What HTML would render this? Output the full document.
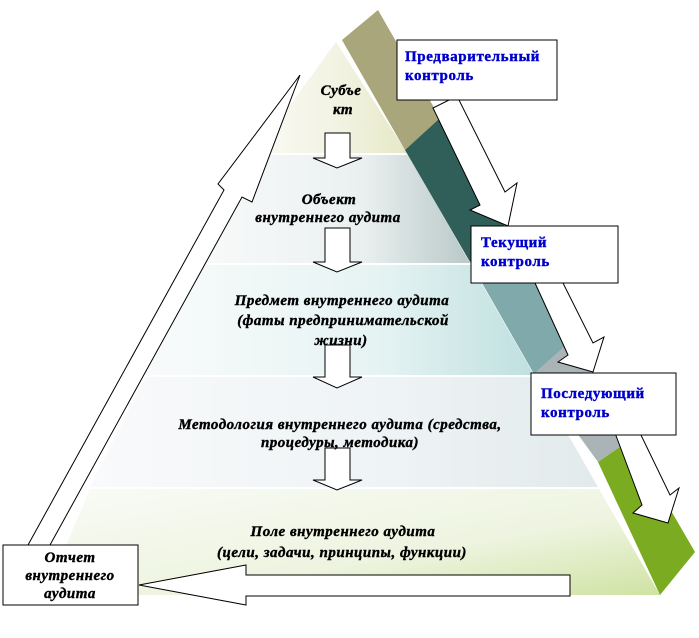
<!DOCTYPE html>
<html><head><meta charset="utf-8"><style>
html,body{margin:0;padding:0;background:#fff;}
svg{display:block;}
.t{font-family:"Liberation Serif","DejaVu Serif",serif;font-weight:bold;font-style:italic;font-size:15px;letter-spacing:0.5px;fill:#000;stroke:#000;stroke-width:0.4;text-anchor:middle;}
.b{font-family:"Liberation Serif","DejaVu Serif",serif;font-weight:bold;font-size:15px;letter-spacing:0.6px;fill:#0000cc;stroke:#0000cc;stroke-width:0.4;}
.o{fill:#fff;stroke:#000;stroke-width:1;}
</style></head><body>
<svg width="699" height="638" viewBox="0 0 699 638" xmlns="http://www.w3.org/2000/svg">
<defs>
<linearGradient id="g1" x1="0" y1="0" x2="1" y2="0"><stop offset="0" stop-color="#fafaf5"/><stop offset="0.6" stop-color="#f1f2e0"/><stop offset="1" stop-color="#e6e8c6"/></linearGradient>
<linearGradient id="g2" x1="0" y1="0" x2="1" y2="0"><stop offset="0" stop-color="#f9fafa"/><stop offset="0.6" stop-color="#eaf0f0"/><stop offset="1" stop-color="#b9c9c8"/></linearGradient>
<linearGradient id="g3" x1="0" y1="0" x2="1" y2="0"><stop offset="0" stop-color="#f9fbfb"/><stop offset="0.6" stop-color="#e6f3f3"/><stop offset="1" stop-color="#bfe0e0"/></linearGradient>
<linearGradient id="g4" x1="0" y1="0" x2="1" y2="0"><stop offset="0" stop-color="#f9fafb"/><stop offset="0.6" stop-color="#eef3f5"/><stop offset="1" stop-color="#e2eaec"/></linearGradient>
<linearGradient id="g5" x1="0" y1="0" x2="1" y2="1"><stop offset="0" stop-color="#f9fbf6"/><stop offset="0.6" stop-color="#eef4e0"/><stop offset="1" stop-color="#cfe3a3"/></linearGradient>
</defs>
<polygon points="336,42 407,153 255,153" fill="url(#g1)"/>
<polygon points="255,155 408,155 470,263 200,263" fill="url(#g2)"/>
<polygon points="200,265 471,265 534,375 145,375" fill="url(#g3)"/>
<polygon points="145,377 535,377 598,487 90,487" fill="url(#g4)"/>
<polygon points="90,489 599,489 660,595 45,595" fill="url(#g5)"/>
<polygon points="342,40 378,10 440,118 405,150" fill="#a8a67a"/>
<polygon points="405,150 440,118 507,230 470,262" fill="#2f5f58"/>
<polygon points="470,262 507,230 572,340 534,374" fill="#7fa9aa"/>
<polygon points="534,374 572,340 630,440 598,462" fill="#aab4b6"/>
<polygon points="598,462 630,440 695,552 660,595" fill="#7aab20"/>
<polygon class="o" points="28,545 224,190 218,184 300,75 252,202 242,197 50,545"/>
<polygon class="o" points="570,575 246,575 246,565 139,585 246,605 246,596 570,596"/>
<polygon class="o" points="325,133 350,133 350,158 362,158 337,168 313,158 325,158"/>
<polygon class="o" points="325,228 350,228 350,262 362,262 337,272 313,262 325,262"/>
<polygon class="o" points="325,345 350,345 350,377 362,377 337,388 313,377 325,377"/>
<polygon class="o" points="325,448 350,448 350,480 362,480 337,490 313,480 325,480"/>
<polygon class="o" points="433,108 480,205 470,210 508,226 517,183 505,192 457,96"/>
<polygon class="o" points="535,283 568,355 558,362 593,372 604,337 593,343 558,273"/>
<polygon class="o" points="615,433 642,505 633,513 668,523 679,488 670,495 640,433"/>
<rect class="o" x="397" y="40" width="160" height="60"/>
<rect class="o" x="471" y="226" width="147" height="57"/>
<rect class="o" x="531" y="373" width="145" height="62"/>
<rect class="o" x="3" y="545" width="135" height="60"/>
<text class="b" x="405" y="61">Предварительный</text>
<text class="b" x="405" y="80">контроль</text>
<text class="b" x="481" y="247">Текущий</text>
<text class="b" x="481" y="266">контроль</text>
<text class="b" x="541" y="398">Последующий</text>
<text class="b" x="541" y="417">контроль</text>
<text class="t" x="341" y="95">Субъе</text>
<text class="t" x="343" y="114">кт</text>
<text class="t" x="329" y="204">Объект</text>
<text class="t" x="328" y="222">внутреннего аудита</text>
<text class="t" x="342" y="305">Предмет внутреннего  аудита</text>
<text class="t" x="343" y="325">(фаты предпринимательской</text>
<text class="t" x="341" y="345">жизни)</text>
<text class="t" x="340" y="429">Методология  внутреннего аудита (средства,</text>
<text class="t" x="340" y="447">процедуры, методика)</text>
<text class="t" x="343" y="536">Поле внутреннего аудита</text>
<text class="t" x="342" y="557">(цели, задачи, принципы, функции)</text>
<text class="t" x="70" y="562">Отчет</text>
<text class="t" x="70" y="580">внутреннего</text>
<text class="t" x="70" y="598">аудита</text>
</svg>
</body></html>
